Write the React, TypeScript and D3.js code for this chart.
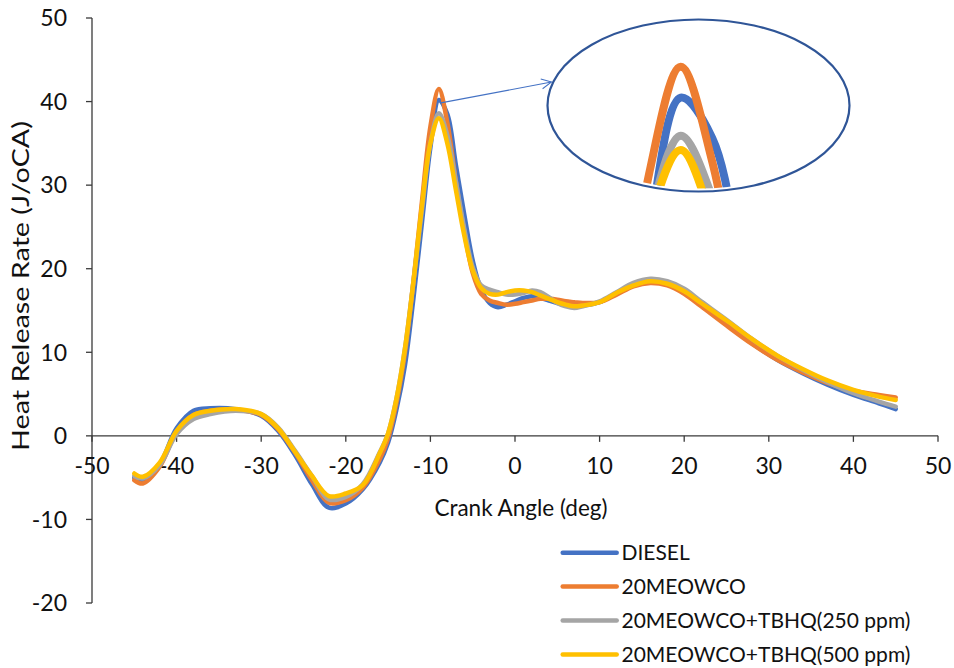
import React from "react";
import * as d3 from "d3";

const ANGLES = [-45,-44,-42,-40,-38,-36,-33,-30,-28,-26,-24,-22,-20,-18,-16,-15,-14,-13,-12,-11,-10,-9,-8,-7,-6,-5,-4,-3,-2,-1,0,1,2,3,4,5,6,7,8,10,12,14,16,18,20,22,25,28,31,34,37,40,43,45];

const DIESEL = [-5.0,-5.3,-3.4,0.9,3.0,3.3,3.2,2.4,0.6,-2.3,
  -5.8,-8.6,-8.1,-6.4,-3.2,-0.8,3.2,8.5,16.5,25.5,
  34.5,40.2,38.5,32.5,26.5,21,17.5,15.9,15.4,15.7,
  16.1,16.5,16.7,16.5,16.2,15.9,15.7,15.5,15.6,16.0,
  17.1,18.1,18.5,18.2,17.2,15.7,13.4,11.1,9.1,7.5,
  6.1,4.9,3.9,3.2];
const MEOWCO = [-5.3,-5.7,-3.7,0.5,2.5,3.0,3.1,2.5,0.8,-2.0,
  -5.3,-8.0,-7.7,-6.2,-2.8,-0.3,4.0,10.0,18.5,28.0,
  37.0,41.5,37.5,30.5,24.5,19.5,17.0,16.2,15.9,15.7,
  15.8,16.0,16.2,16.4,16.4,16.3,16.1,16.0,15.9,16.0,
  16.9,17.9,18.3,18.0,17.0,15.5,13.2,11.0,9.1,7.6,
  6.3,5.4,4.9,4.6];
const TBHQ250 = [-4.8,-5.1,-3.5,0.2,2.0,2.6,3.0,2.6,1.0,-1.8,
  -4.8,-7.6,-7.3,-5.8,-2.0,0.3,4.5,10.5,18.5,27.0,
  35.0,38.6,36.0,30.5,24.8,20.2,18.0,17.5,17.2,16.9,
  16.9,17.1,17.4,17.2,16.6,15.9,15.5,15.3,15.5,16.1,
  17.2,18.3,18.8,18.5,17.6,16.1,13.9,11.6,9.6,7.9,
  6.4,5.1,4.1,3.5];
const TBHQ500 = [-4.5,-4.9,-3.2,0.6,2.5,3.0,3.2,2.6,0.9,-1.9,
  -4.8,-7.2,-6.9,-5.9,-2.1,0.3,4.5,10.5,18.5,27.5,
  35.0,38.0,35.0,29.5,24.0,19.8,17.7,17.0,16.9,17.2,
  17.4,17.4,17.2,16.8,16.4,16.0,15.7,15.5,15.6,16.0,
  17.1,18.0,18.5,18.2,17.3,15.9,13.8,11.6,9.6,8.0,
  6.6,5.5,4.7,4.3];

const SERIES_NAMES = ["DIESEL", "20MEOWCO", "20MEOWCO+TBHQ(250 ppm)", "20MEOWCO+TBHQ(500 ppm)"];
const SERIES_VALUES = [DIESEL, MEOWCO, TBHQ250, TBHQ500];
const COLORS = ["#4472C4", "#ED7D31", "#A5A5A5", "#FFC000"];
const X_TICKS = [-50,-40,-30,-20,-10,0,10,20,30,40,50];
const Y_TICKS = [-20,-10,0,10,20,30,40,50];
const X_TITLE = "Crank Angle (deg)";
const Y_TITLE = "Heat Release Rate (J/oCA)";

const FONT = "Lato, 'Open Sans', sans-serif";

export default function App() {
  const x = d3.scaleLinear().domain([-50, 50]).range([92, 938]);
  const y = d3.scaleLinear().domain([-20, 50]).range([603, 18]);

  const xi = d3.scaleLinear().domain([-9, -8]).range([680.7, 712.3]);
  const yi = d3.scaleLinear().domain([41.5, 40.5]).range([66.7, 90.5]);

  const line = d3.line<number>()
    .x((_, i) => x(ANGLES[i]))
    .y((v) => y(v))
    .curve(d3.curveCatmullRom.alpha(0.5));
  const lineInset = d3.line<number>()
    .x((_, i) => xi(ANGLES[i]))
    .y((v) => yi(v))
    .curve(d3.curveCatmullRom.alpha(0.5));

  const axisColor = "#3a3a3a";
  const textColor = "#111";
  const ell = { cx: 698.5, cy: 105.5, rx: 151, ry: 86 };

  const legendY0 = 552.7;
  const legendStep = 33.9;

  return (
    <svg width={954} height={668} style={{ position: "absolute", left: 0, top: 0, background: "#fff" }}
      fontFamily={FONT}>
      <defs>
        <clipPath id="insetClip">
          <ellipse cx={ell.cx} cy={ell.cy - 1} rx={ell.rx - 2} ry={ell.ry - 2} />
        </clipPath>
        <marker id="arrow" viewBox="0 0 12 12" refX="11" refY="6" markerWidth="12" markerHeight="12"
          markerUnits="userSpaceOnUse" orient="auto">
          <path d="M1,1 L11,6 L1,11" fill="none" stroke="#4472C4" strokeWidth={1} />
        </marker>
      </defs>

      {/* axes */}
      <line x1={x(-50)} x2={x(-50)} y1={y(50)} y2={y(-20)} stroke={axisColor} strokeWidth={1.3} />
      {Y_TICKS.map((t) => (
        <g key={"yt" + t}>
          <line x1={x(-50) - 6} x2={x(-50)} y1={y(t)} y2={y(t)} stroke={axisColor} strokeWidth={1.3} />
          <text x={67} y={y(t)} dy="0.36em" textAnchor="end" fontSize={23} fill={textColor}>{t}</text>
        </g>
      ))}
      <line x1={x(-50)} x2={x(50)} y1={y(0)} y2={y(0)} stroke={axisColor} strokeWidth={1.3} />
      {X_TICKS.map((t) => (
        <g key={"xt" + t}>
          <line x1={x(t)} x2={x(t)} y1={y(0)} y2={y(0) + 6} stroke={axisColor} strokeWidth={1.3} />
          <text x={x(t)} y={466} dy="0.36em" textAnchor="middle" fontSize={23} fill={textColor}>{t}</text>
        </g>
      ))}
      <text x={521} y={508} dy="0.36em" textAnchor="middle" fontSize={22.5} fill={textColor}>{X_TITLE}</text>
      <text transform={`translate(21,286) rotate(-90)`} dy="0.36em" textAnchor="middle" fontSize={23}
        textLength={330} lengthAdjust="spacingAndGlyphs" fill={textColor}>{Y_TITLE}</text>

      {/* series */}
      {SERIES_VALUES.map((vals, i) => (
        <path key={"s" + i} d={line(vals) || ""} fill="none" stroke={COLORS[i]} strokeWidth={4.5}
          strokeLinejoin="round" strokeLinecap="round" />
      ))}

      {/* inset */}
      <g clipPath="url(#insetClip)">
        {SERIES_VALUES.map((vals, i) => (
          <path key={"i" + i} d={lineInset(vals) || ""} fill="none" stroke={COLORS[i]} strokeWidth={8}
            strokeLinejoin="round" />
        ))}
      </g>
      <ellipse cx={ell.cx} cy={ell.cy} rx={ell.rx} ry={ell.ry} fill="none" stroke="#2F5597" strokeWidth={2.2} />
      <line x1={x(-9) + 2} y1={y(DIESEL[ANGLES.indexOf(-9)]) + 3} x2={ell.cx - ell.rx + 4} y2={82}
        stroke="#4472C4" strokeWidth={1.1} markerEnd="url(#arrow)" />

      {/* legend */}
      {SERIES_NAMES.map((name, i) => (
        <g key={"l" + i}>
          <line x1={562.7} x2={616.7} y1={legendY0 + i * legendStep} y2={legendY0 + i * legendStep}
            stroke={COLORS[i]} strokeWidth={4.5} strokeLinecap="round" />
          <text x={621.5} y={legendY0 + i * legendStep} dy="0.36em" fontSize={21} fill={textColor}>{name}</text>
        </g>
      ))}
    </svg>
  );
}
